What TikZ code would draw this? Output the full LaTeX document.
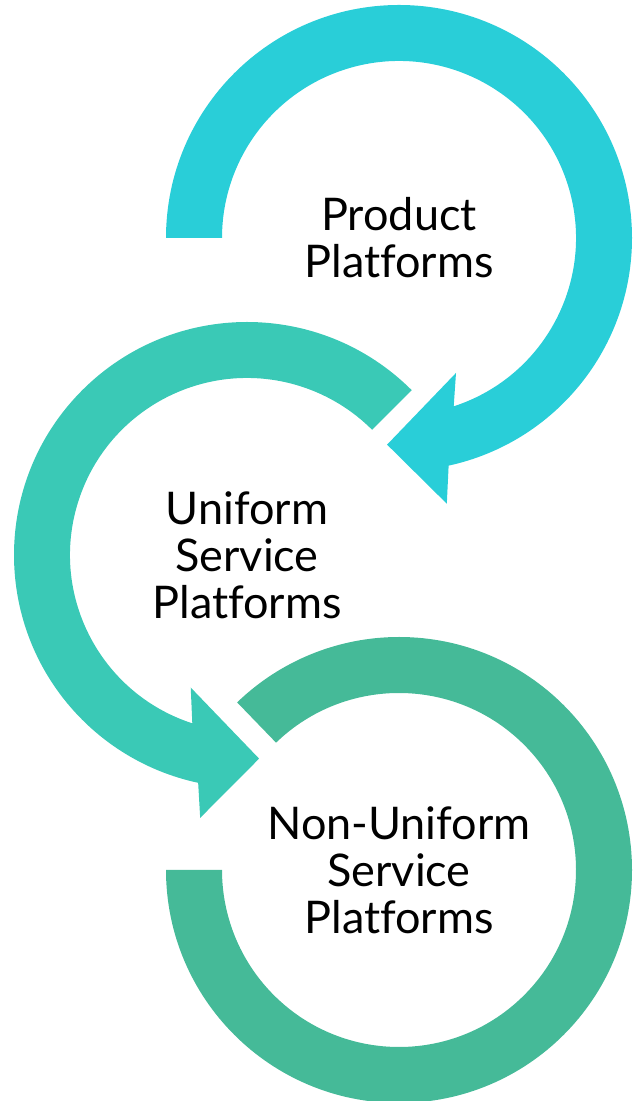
\documentclass[tikz,border=0pt]{standalone}
\usepackage{fontspec}
\setmainfont{Lato}[Ligatures=NoCommon]
\usetikzlibrary{calc}

\tikzset{
  label text/.style={align=center, text=black, font=\fontsize{45}{47}\selectfont},
}
\definecolor{topcyan}{HTML}{29CED8}
\definecolor{midteal}{HTML}{3AC9B6}
\definecolor{lowgreen}{HTML}{45BA98}

\begin{document}
\begin{tikzpicture}[x=1pt, y=1pt]
    \useasboundingbox (0,0) rectangle (633,1101);
    \coordinate (c1) at (399,863);
    \coordinate (c2) at (247,546);
    \coordinate (c3) at (399,231);

    % top ring, clockwise, head at the bottom
    \fill[topcyan] ($(c1)+(180:233)$) arc[start angle=180, end angle=-77.7, radius=233]
      -- ($(c1)+(-79.8:270)$) -- ($(c1)+(-93.3:207)$) -- ($(c1)+(-67.1:146.5)$)
      -- ($(c1)+(-72:177)$) arc[start angle=-72, end angle=180, radius=177] -- cycle;

    % middle ring, counter clockwise
    \fill[midteal] ($(c2)+(45:233)$) arc[start angle=45, end angle=257.9, radius=233]
      -- ($(c2)+(259.9:267)$) -- ($(c2)+(273.4:204)$) -- ($(c2)+(247:144)$)
      -- ($(c2)+(252:177)$) arc[start angle=252, end angle=45, radius=177] -- cycle;

    % bottom ring, no head
    \fill[lowgreen] ($(c3)+(180:233)$) arc[start angle=180, end angle=494, radius=233]
      -- ($(c3)+(494:177)$) arc[start angle=494, end angle=180, radius=177] -- cycle;

    \node[label text] (product) at (c1) {Product\\Platforms};
    \node[label text] (uniform) at (c2) {Uniform\\Service\\Platforms};
    \node[label text] (nonuniform) at (c3) {Non-Uniform\\Service\\Platforms};
  \end{tikzpicture}
\end{document}
